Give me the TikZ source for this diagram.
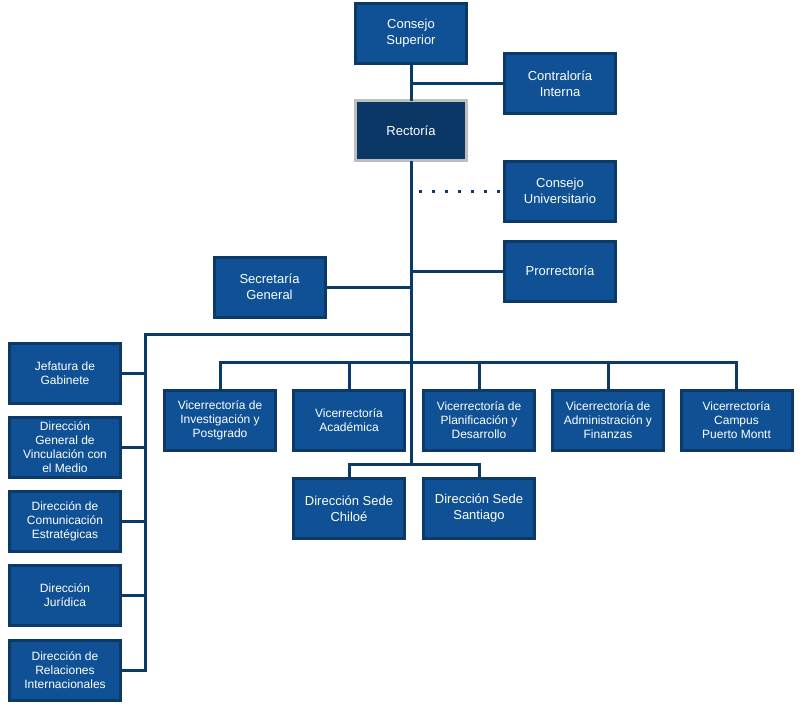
\documentclass[tikz,border=0pt]{standalone}
\usepackage{fontspec}
\setmainfont{Liberation Sans}
\usepackage{tikz}
\definecolor{boxblue}{HTML}{0F5194}
\definecolor{lineblue}{HTML}{0B3A69}
\definecolor{rectblue}{HTML}{0A3765}
\definecolor{rectgray}{HTML}{BEBEBE}

\begin{document}
\begin{tikzpicture}[x=1pt,y=-1pt,
    unit/.style={draw=lineblue,fill=boxblue,line width=3pt,text=white,align=center,
        minimum width=111pt,minimum height=60pt,inner sep=2pt,font=\fontsize{13}{16}\selectfont},
    small/.style={unit,font=\fontsize{12}{14}\selectfont},
    rector/.style={unit,draw=rectgray,fill=rectblue},
    link/.style={draw=lineblue,line width=3pt,line cap=rect},
    dots/.style={draw=lineblue,line width=3pt,dash pattern=on 3pt off 10pt}]
    \useasboundingbox (0,0) rectangle (806,709);

    % top
    \node[unit] (cs) at (411,33.5) {Consejo\\Superior};
    \node[unit] (ci) at (560,83.5) {Contraloría\\Interna};
    \node[rector] (re) at (411,130.5) {Rectoría};
    \node[unit] (cu) at (560,191) {Consejo\\Universitario};
    \node[unit] (pr) at (560,271) {Prorrectoría};
    \node[unit] (sg) at (269.5,287) {Secretaría\\General};

    % left column
    \node[small] (jg) at (65,373) {Jefatura de\\Gabinete};
    \node[small] (dg) at (65,447) {Dirección\\General de\\Vinculación con\\el Medio};
    \node[small] (dc) at (65,521) {Dirección de\\Comunicación\\Estratégicas};
    \node[small] (dj) at (65,595.5) {Dirección\\Jurídica};
    \node[small] (dr) at (65,670) {Dirección de\\Relaciones\\Internacionales};

    % vicerrectorias
    \node[small] (vi) at (220,420.5) {Vicerrectoría de\\Investigación y\\Postgrado};
    \node[small] (va) at (349,420.5) {Vicerrectoría\\Académica};
    \node[small] (vp) at (479,420.5) {Vicerrectoría de\\Planificación y\\Desarrollo};
    \node[small] (vf) at (608,420.5) {Vicerrectoría de\\Administración y\\Finanzas};
    \node[small] (vc) at (736.5,420.5) {Vicerrectoría\\Campus\\Puerto Montt};

    % sedes
    \node[unit] (sc) at (349,508.5) {Dirección Sede\\Chiloé};
    \node[unit] (ss) at (479,508.5) {Dirección Sede\\Santiago};

    % points where the branches meet
    \coordinate (lbus) at (411,334);
    \coordinate (lcorner) at (145,334);
    \coordinate (sedebus) at (411,464);

    % connectors
    \draw[link] (cs.south) -- (re.north);
    \draw[link] (re.south) -- (sedebus);
    \draw[link] (ci.west) -- (ci.west -| cs.south);
    \draw[dots] (cu.west) ++(-3,0) -- ([xshift=1pt]cu.west -| re.south);
    \draw[link] (pr.west) -- (pr.west -| re.south);
    \draw[link] (sg.east) -- (sg.east -| re.south);
    \draw[link] (lbus) -- (lcorner) -- (lcorner |- dr.east);
    \foreach \n in {jg,dg,dc,dj,dr}
        \draw[link] (\n.east) -- (\n.east -| lcorner);
    \draw[link] (vi.north) -- ++(0,-27) -| (vc.north);
    \foreach \n in {va,vp,vf}
        \draw[link] (\n.north) -- ++(0,-27);
    \draw[link] (sc.north) |- (sedebus) -| (ss.north);
\end{tikzpicture}
\end{document}
